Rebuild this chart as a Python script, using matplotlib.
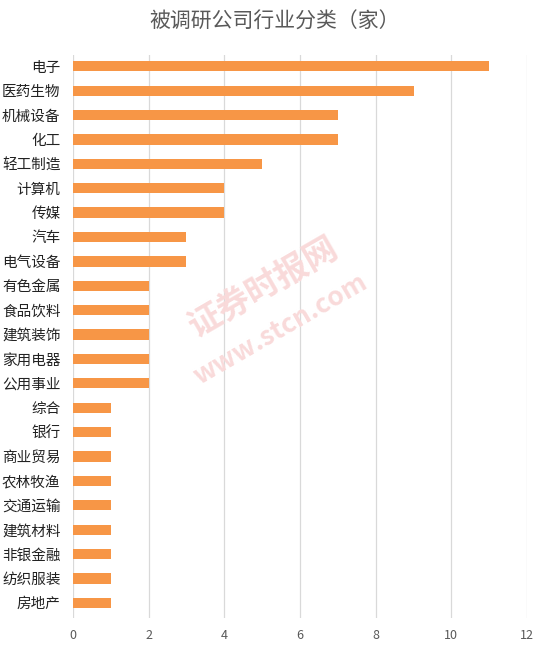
import matplotlib.pyplot as plt

plt.rcParams['font.family'] = ['Noto Sans CJK SC', 'DejaVu Sans']

# 行业分类及被调研公司数量
hangye = ['电子', '医药生物', '机械设备', '化工', '轻工制造', '计算机', '传媒',
          '汽车', '电气设备', '有色金属', '食品饮料', '建筑装饰', '家用电器',
          '公用事业', '综合', '银行', '商业贸易', '农林牧渔', '交通运输',
          '建筑材料', '非银金融', '纺织服装', '房地产']
shuliang = [11, 9, 7, 7, 5, 4, 4, 3, 3, 2, 2, 2, 2, 2, 1, 1, 1, 1, 1, 1, 1, 1, 1]
xticks = [0, 2, 4, 6, 8, 10, 12]

fig = plt.figure(figsize=(5.5, 6.45), dpi=100)
ax = fig.add_axes([0.1327, 0.042, 0.8255, 0.873])

ax.barh(range(len(hangye)), shuliang, height=0.42, color='#F79646', zorder=3)

ax.set_xlim(0, 12)
ax.set_ylim(22.62, -0.47)
ax.set_xticks(xticks)
ax.set_xticklabels([str(t) for t in xticks])
ax.set_yticks(range(len(hangye)))
ax.set_yticklabels(hangye)
ax.grid(axis='x', color='#D9D9D9', linewidth=0.9, zorder=0)
for s in ax.spines.values():
    s.set_visible(False)
ax.tick_params(axis='both', length=0)
ax.tick_params(axis='y', labelsize=10.5, labelcolor='#222222', pad=9)
ax.tick_params(axis='x', labelsize=9, labelcolor='#595959', pad=8)

fig.text(0.5, 0.967, '被调研公司行业分类（家）', ha='center', va='center',
         fontsize=15, color='#595959')

# 水印
fig.text(0.48, 0.555, '证券时报网', ha='center', va='center', rotation=30,
         fontsize=24, color='#F9DADA', fontweight='bold', zorder=5)
fig.text(0.51, 0.49, 'www.stcn.com', ha='center', va='center', rotation=30,
         fontsize=19, color='#F9DADA', fontweight='bold', zorder=5)

fig.savefig('out.png', dpi=100)
